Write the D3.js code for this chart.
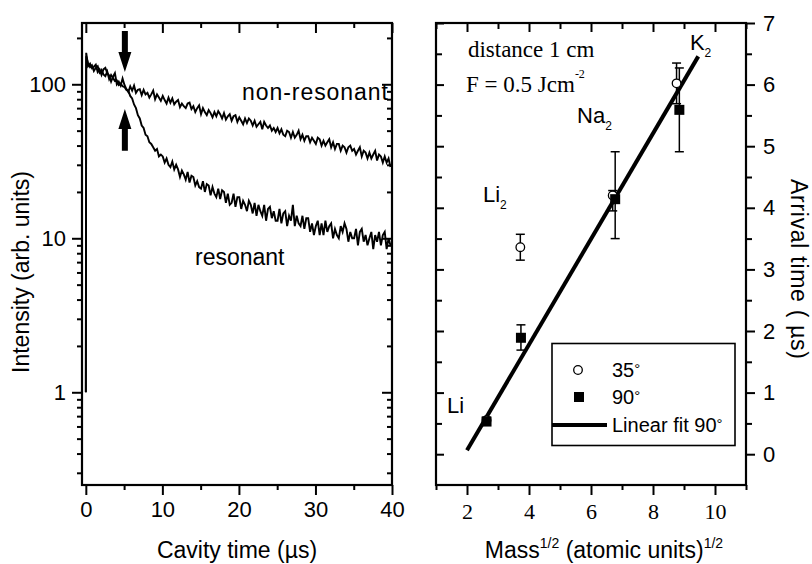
<!DOCTYPE html>
<html><head><meta charset="utf-8">
<script src="https://cdn.jsdelivr.net/npm/d3@7"></script>
<style>body{margin:0;background:#fff} svg{display:block}</style>
</head><body>
<svg id="c" width="812" height="564"></svg>
<script>
// ---------- data: left panel (cavity ring-down traces) ----------
// trigger spike at t = 0 (value 1), then samples every 0.25 µs starting at 0.05 µs
const spikeTime = 0, spikeValue = 1;
const traceStart = 0.05, timeStep = 0.25;
const nonResonant = [
  160,131,136,127, 130,134,120,125, 115,125,128,118, 114,104,112,118, 100,104,98,109,
  99,93,89,97, 91,98,88,92, 93,85,92,86, 88,82,86,91, 80,86,82,78,
  84,79,75,82, 76,81,74,77, 79,71,75,72, 70,75,76,69, 72,66,70,73,
  64,70,66,63, 68,65,61,66, 62,67,64,60, 65,59,62,64, 58,62,63,57,
  61,58,55,60, 56,60,58,54, 58,53,55,57, 51,57,54,52, 54,50,52,49,
  52,48,51,47, 46,50,49,45, 49,45,47,50, 44,47,43,46, 46,42,45,43,
  41,45,44,40, 43,40,42,44, 39,42,38,41, 41,37,40,39, 36,39,40,37,
  38,35,37,39, 34,37,36,33, 36,33,35,37, 32,35,34,31, 34,31,33,29
];
const resonant = [
  152,136,129,133, 122,128,131,119, 124,116,113,121, 108,115,110,105, 106,99,101,97,
  96,92,91,84, 81,74,70,63, 60,54,52,47, 46,42,41,39, 37,38,34,35,
  34,31,33,30, 29,31.5,28,30, 28,25,27.5,26, 24,27,23,25.5, 25,22,23.5,21.5,
  21,23.5,20,22.5, 22,19,21.5,19.5, 18.5,21,18,20.5, 20,17,19.5,16.5, 17,19.5,16,18.5,
  18.5,15.5,17.5,16.5, 15,17.5,16.5,14.5, 17,14,16.5,15, 14,16.5,13,15.5, 16,13.5,15,13,
  13,15.5,12.5,14.5, 15,12,14,13, 16.5,12,14,12.5, 12,14,11.5,13.5, 13.5,11,12.5,10.5,
  12,13,10.5,12.5, 10.5,13,11,12, 12.5,10,11.5,10.5, 10,12,11,12.5, 11.5,9.5,11,10,
  10,11.5,9,11, 11.5,9.5,10.5,9, 10,11,8.5,10.5, 9.5,11,9,10.5, 11,8.5,10,9
];
const leftXTicks = [0,10,20,30,40];
const leftXMinor = [5,15,25,35];
const leftYTicks = [1,10,100];
const leftYMinor = [0.3,0.4,0.5,0.6,0.7,0.8,0.9,2,3,4,5,6,7,8,9,20,30,40,50,60,70,80,90,200];

// ---------- data: right panel (arrival time vs sqrt(mass)) ----------
const species = ["Li","Li2","Na2","K2"];
const mass35 = [2.63, 3.72, 6.70, 8.76];
const time35 = [0.55, 3.36, 4.20, 6.02];
const time35Lo = [0.50, 3.15, 3.95, 5.69];
const time35Hi = [0.60, 3.57, 4.28, 6.35];
const mass90 = [2.63, 3.74, 6.78, 8.85];
const time90 = [0.53, 1.89, 4.14, 5.59];
const time90Lo = [0.47, 1.69, 3.50, 4.91];
const time90Hi = [0.59, 2.10, 4.91, 6.27];
const fitSlope = 0.857, fitIntercept = -1.649;
const fitRange = [2.0, 9.46];
const rightXTicks = [2,4,6,8,10];
const rightXMinor = [1,3,5,7,9,11];
const rightYTicks = [0,1,2,3,4,5,6,7];
const rightYMinor = [0.5,1.5,2.5,3.5,4.5,5.5,6.5];

// ---------- layout ----------
const svg = d3.select("#c");
const SANS = "'Liberation Sans', Arial, sans-serif";
const SERIF = "'Liberation Serif', 'Times New Roman', serif";
const yTop = 23, yBot = 485;

const LX = d3.scaleLinear().domain([-0.5, 40]).range([82, 392]);
const LY = d3.scaleLog().domain([0.25, 250]).range([yBot, yTop]);
const RX = d3.scaleLinear().domain([1, 11]).range([436, 746]);
const RY = d3.scaleLinear().domain([-0.5, 7]).range([yBot, yTop]);

function ax(gen, vals, size, fmt, pad, font, transform) {
  const g = svg.append("g").attr("transform", transform)
    .call(gen.tickValues(vals).tickSize(size).tickPadding(pad).tickFormat(fmt));
  g.select(".domain").remove();
  g.selectAll(".tick line").attr("stroke", "#000").attr("stroke-width", 2);
  g.selectAll(".tick text").attr("fill", "#000").attr("font-family", font).attr("font-size", 22);
  return g;
}
const none = () => "";

// ----- left panel -----
svg.append("defs").append("clipPath").attr("id", "clipL")
  .append("rect").attr("x", 82).attr("y", yTop).attr("width", 310).attr("height", yBot - yTop);

const line = d3.line().x(d => LX(d[0])).y(d => LY(d[1]));
const traces = svg.append("g").attr("clip-path", "url(#clipL)");
[nonResonant, resonant].forEach(s => {
  const pts = [[spikeTime, spikeValue]].concat(s.map((v, i) => [traceStart + i * timeStep, v]));
  traces.append("path").attr("d", line(pts)).attr("fill", "none")
    .attr("stroke", "#000").attr("stroke-width", 1.9).attr("stroke-linejoin", "miter");
});

ax(d3.axisBottom(LX), leftXTicks, 10, d3.format("d"), 6, SANS, `translate(0,${yBot})`);
ax(d3.axisBottom(LX), leftXMinor, 5, none, 6, SANS, `translate(0,${yBot})`);
ax(d3.axisTop(LX), leftXTicks, -10, none, 0, SANS, `translate(0,${yTop})`);
ax(d3.axisTop(LX), leftXMinor, -5, none, 0, SANS, `translate(0,${yTop})`);
ax(d3.axisLeft(LY), leftYTicks, 10, d3.format("d"), 6, SANS, `translate(82,0)`);
ax(d3.axisLeft(LY), leftYMinor, 5, none, 6, SANS, `translate(82,0)`);
ax(d3.axisRight(LY), leftYTicks, -10, none, 0, SANS, `translate(392,0)`);
ax(d3.axisRight(LY), leftYMinor, -5, none, 0, SANS, `translate(392,0)`);
svg.append("rect").attr("x", 82).attr("y", yTop).attr("width", 310).attr("height", yBot - yTop)
  .attr("fill", "none").attr("stroke", "#000").attr("stroke-width", 2.2);

// arrows marking the resonance onset
function arrow(xc, yTail, yTip) {
  const dir = Math.sign(yTip - yTail), hl = 20, hw = 6.5, sw = 3;
  const yb = yTip - dir * hl;
  return `M${xc - sw},${yTail} L${xc + sw},${yTail} L${xc + sw},${yb} L${xc + hw},${yb} L${xc},${yTip} L${xc - hw},${yb} L${xc - sw},${yb} Z`;
}
svg.append("path").attr("d", arrow(LX(5.1), LY(222), LY(120))).attr("fill", "#000");
svg.append("path").attr("d", arrow(LX(5.1), LY(37), LY(69))).attr("fill", "#000");

svg.append("text").attr("x", LX(20.4)).attr("y", LY(79)).attr("font-family", SANS).attr("font-size", 23)
  .attr("textLength", 146).text("non-resonant");
svg.append("text").attr("x", LX(14.26)).attr("y", LY(6.71)).attr("font-family", SANS).attr("font-size", 23).text("resonant");

svg.append("text").attr("transform", "translate(28.5,272) rotate(-90)").attr("text-anchor", "middle")
  .attr("font-family", SANS).attr("font-size", 23).text("Intensity (arb. units)");
svg.append("text").attr("x", 237).attr("y", 558).attr("text-anchor", "middle")
  .attr("font-family", SANS).attr("font-size", 23).text("Cavity time (\u00B5s)");

// ----- right panel -----
ax(d3.axisBottom(RX), rightXTicks, 10, d3.format("d"), 8, SERIF, `translate(0,${yBot})`);
ax(d3.axisBottom(RX), rightXMinor, 5, none, 8, SERIF, `translate(0,${yBot})`);
ax(d3.axisTop(RX), rightXTicks, -9, none, 0, SANS, `translate(0,${yTop})`);
ax(d3.axisTop(RX), rightXMinor, -6, none, 0, SANS, `translate(0,${yTop})`);
ax(d3.axisLeft(RY), rightYTicks, -8, none, 0, SANS, `translate(436,0)`);
ax(d3.axisLeft(RY), rightYMinor, -6, none, 0, SANS, `translate(436,0)`);
ax(d3.axisRight(RY), rightYTicks, 9, d3.format("d"), 8, SANS, `translate(746,0)`);
ax(d3.axisRight(RY), rightYMinor, 6, none, 8, SANS, `translate(746,0)`);
svg.append("rect").attr("x", 436).attr("y", yTop).attr("width", 310).attr("height", yBot - yTop)
  .attr("fill", "none").attr("stroke", "#000").attr("stroke-width", 2.2);

// error bars
function errorBars(xs, lo, hi) {
  const g = svg.append("g").attr("stroke", "#000").attr("stroke-width", 1.5);
  xs.forEach((x, i) => {
    const px = RX(x);
    g.append("line").attr("x1", px).attr("x2", px).attr("y1", RY(lo[i])).attr("y2", RY(hi[i]));
    [lo[i], hi[i]].forEach(v => g.append("line").attr("x1", px - 4.5).attr("x2", px + 4.5).attr("y1", RY(v)).attr("y2", RY(v)));
  });
}
errorBars(mass35, time35Lo, time35Hi);
errorBars(mass90, time90Lo, time90Hi);

// fit line
svg.append("line")
  .attr("x1", RX(fitRange[0])).attr("y1", RY(fitSlope * fitRange[0] + fitIntercept))
  .attr("x2", RX(fitRange[1])).attr("y2", RY(fitSlope * fitRange[1] + fitIntercept))
  .attr("stroke", "#000").attr("stroke-width", 4);

// markers
svg.append("g").selectAll("circle").data(mass35).join("circle")
  .attr("cx", d => RX(d)).attr("cy", (d, i) => RY(time35[i])).attr("r", 4.3)
  .attr("fill", "#fff").attr("stroke", "#000").attr("stroke-width", 1.3);
svg.append("g").selectAll("rect").data(mass90).join("rect")
  .attr("x", d => RX(d) - 5).attr("y", (d, i) => RY(time90[i]) - 5).attr("width", 10).attr("height", 10)
  .attr("fill", "#000");

// annotations
function label(x, y, main, script, dy, font, size) {
  const t = svg.append("text").attr("x", RX(x)).attr("y", RY(y)).attr("font-family", font).attr("font-size", size);
  t.append("tspan").text(main);
  if (script) t.append("tspan").attr("dy", dy).attr("font-size", 12).text(script);
  return t;
}
label(2.03, 6.448, "distance 1 cm", null, 0, SERIF, 23);
label(1.97, 5.88, "F = 0.5 Jcm", "-2", -14, SERIF, 23);
label(5.55, 5.377, "Na", "2", 7, SANS, 22);
label(2.516, 4.094, "Li", "2", 7, SANS, 22);
label(9.19, 6.56, "K", "2", 7, SANS, 22);
label(1.355, 0.669, "Li", null, 0, SANS, 22);

// legend
const lg = svg.append("g");
lg.append("rect").attr("x", 552).attr("y", 343.5).attr("width", 183).attr("height", 102)
  .attr("fill", "#fff").attr("stroke", "#000").attr("stroke-width", 1.6);
lg.append("circle").attr("cx", 578).attr("cy", 370).attr("r", 4.3).attr("fill", "#fff").attr("stroke", "#000").attr("stroke-width", 1.3);
lg.append("rect").attr("x", 574).attr("y", 392).attr("width", 10).attr("height", 10).attr("fill", "#000");
lg.append("line").attr("x1", 552).attr("x2", 607).attr("y1", 425).attr("y2", 425).attr("stroke", "#000").attr("stroke-width", 4);
[["35", 377], ["90", 404], ["Linear fit 90", 432]].forEach(([s, y]) => {
  const t = lg.append("text").attr("x", 612).attr("y", y).attr("font-family", SANS).attr("font-size", 20);
  t.append("tspan").text(s);
  t.append("tspan").attr("font-size", 15).attr("dy", -3).text("\u00B0");
});

svg.append("text").attr("transform", "translate(790.5,269) rotate(90)").attr("text-anchor", "middle")
  .attr("font-family", SANS).attr("font-size", 23).attr("textLength", 180).text("Arrival time ( \u00B5s)");
const xt = svg.append("text").attr("x", 604).attr("y", 558).attr("text-anchor", "middle")
  .attr("font-family", SANS).attr("font-size", 23);
xt.append("tspan").text("Mass");
xt.append("tspan").attr("font-size", 14).attr("dy", -10).text("1/2");
xt.append("tspan").attr("dy", 10).text(" (atomic units)");
xt.append("tspan").attr("font-size", 14).attr("dy", -10).text("1/2");
</script>
</body></html>
